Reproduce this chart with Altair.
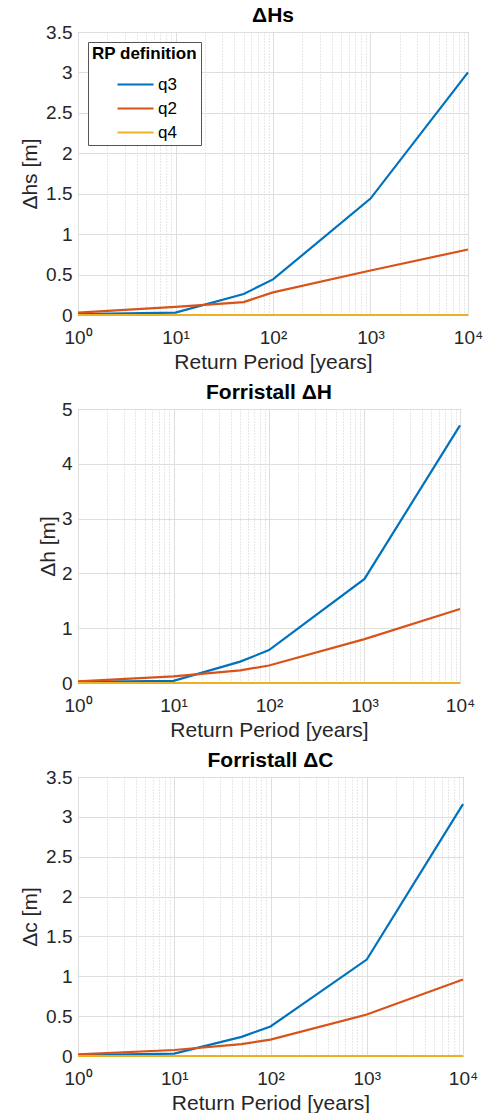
import altair as alt
import pandas as pd

# Return periods (years) at which the differences were evaluated
return_period = [1, 10, 50, 100, 1000, 10000]
series_names = ["q3", "q2", "q4"]
series_colors = ["#0072BD", "#D95319", "#EDB120"]

# Delta Hs [m]
hs_q3 = [0.01, 0.03, 0.26, 0.44, 1.44, 3.00]
hs_q2 = [0.03, 0.10, 0.16, 0.28, 0.55, 0.81]
hs_q4 = [0.0, 0.0, 0.0, 0.0, 0.0, 0.0]

# Forristall Delta H [m]
h_q3 = [0.02, 0.04, 0.39, 0.60, 1.90, 4.70]
h_q2 = [0.03, 0.12, 0.23, 0.32, 0.80, 1.35]
h_q4 = [0.0, 0.0, 0.0, 0.0, 0.0, 0.0]

# Forristall Delta C [m]
c_q3 = [0.01, 0.03, 0.24, 0.37, 1.21, 3.16]
c_q2 = [0.02, 0.075, 0.15, 0.205, 0.52, 0.96]
c_q4 = [0.0, 0.0, 0.0, 0.0, 0.0, 0.0]

decades = [1, 10, 100, 1000, 10000]
x_ticks = sorted(set(decades + [d * m for d in decades[:-1] for m in range(2, 10)]))

FONT = "Liberation Sans"
TEXT = "#262626"


def long_table(q3, q2, q4):
    rows = []
    for name, vals in zip(series_names, [q3, q2, q4]):
        for rp, v in zip(return_period, vals):
            rows.append({"rp": rp, "value": v, "series": name})
    return pd.DataFrame(rows)


def panel(title, ytitle, q3, q2, q4, ymax, ystep, width, height, ytitle_pad):
    y_vals = []
    v = 0.0
    while v <= ymax + 1e-9:
        y_vals.append(round(v, 3))
        v += ystep
    major_test = "indexof([1, 10, 100, 1000, 10000], datum.value) >= 0"
    x_axis = alt.Axis(
        values=x_ticks,
        labelExpr=(
            "datum.value == 1 ? '10⁰' : datum.value == 10 ? '10¹' : "
            "datum.value == 100 ? '10²' : datum.value == 1000 ? '10³' : "
            "datum.value == 10000 ? '10⁴' : ''"
        ),
        labelOverlap=False,
        labelFlush=False,
        labelFontSize=19,
        labelPadding=13,
        labelColor=TEXT,
        labelFont=FONT,
        title="Return Period [years]",
        titleFontSize=21,
        titleFontWeight="normal",
        titleFont=FONT,
        titleColor=TEXT,
        titlePadding=4,
        ticks=False,
        domain=False,
        grid=True,
        gridColor={"condition": {"test": major_test, "value": "#dedede"}, "value": "#cfcfcf"},
        gridDash={"condition": {"test": major_test, "value": []}, "value": [1, 2]},
        gridWidth=1,
    )
    y_axis = alt.Axis(
        values=y_vals,
        format="~g",
        labelFontSize=19,
        labelPadding=6,
        labelColor=TEXT,
        labelFont=FONT,
        title=ytitle,
        titleFontSize=21,
        titleFontWeight="normal",
        titleFont=FONT,
        titleColor=TEXT,
        titlePadding=ytitle_pad,
        ticks=False,
        domain=False,
        grid=True,
        gridColor="#dedede",
        gridWidth=1,
    )
    legend = alt.Legend(
        title="RP definition",
        orient="none",
        legendX=10,
        legendY=10,
        titleFont=FONT,
        titleFontSize=17,
        titleFontWeight="bold",
        titleColor="#000000",
        titlePadding=11,
        titleBaseline="top",
        labelFont=FONT,
        labelFontSize=17,
        labelColor="#000000",
        labelOffset=12,
        symbolType="M-2,0H2",
        symbolSize=324,
        symbolStrokeWidth=2.2,
        symbolOffset=33,
        rowPadding=5,
        padding=4,
        strokeColor="#555555",
        fillColor="#ffffff",
    )
    data = long_table(q3, q2, q4)
    return (
        alt.Chart(data)
        .mark_line(strokeWidth=2.2, clip=False)
        .encode(
            x=alt.X("rp:Q", scale=alt.Scale(type="log", domain=[1, 10000], nice=False), axis=x_axis),
            y=alt.Y("value:Q", scale=alt.Scale(domain=[0, ymax], nice=False, zero=True), axis=y_axis),
            color=alt.Color(
                "series:N",
                scale=alt.Scale(domain=series_names, range=series_colors),
                sort=series_names,
                legend=legend,
            ),
            order=alt.Order("rp:Q"),
        )
        .properties(
            width=width,
            height=height,
            title=alt.TitleParams(
                title,
                font=FONT,
                fontSize=21,
                fontWeight="bold",
                color="#000000",
                anchor="middle",
                offset=-3,
            ),
        )
    )


p1 = panel("ΔHs", "Δhs [m]", hs_q3, hs_q2, hs_q4, 3.5, 0.5, 390, 283, 5)
p2 = panel("Forristall ΔH", "Δh [m]", h_q3, h_q2, h_q4, 5, 1, 382, 274, 3)
p3 = panel("Forristall ΔC", "Δc [m]", c_q3, c_q2, c_q4, 3.5, 0.5, 385, 279, 5)

chart = (
    alt.vconcat(p1, p2, p3, spacing=8)
    .properties(padding={"left": 19, "top": 4, "right": 0, "bottom": 0}, background="#ffffff")
    .configure_view(stroke="#888888", strokeWidth=1)
)

chart.save("out.html", embed_options={"renderer": "svg", "actions": False})
